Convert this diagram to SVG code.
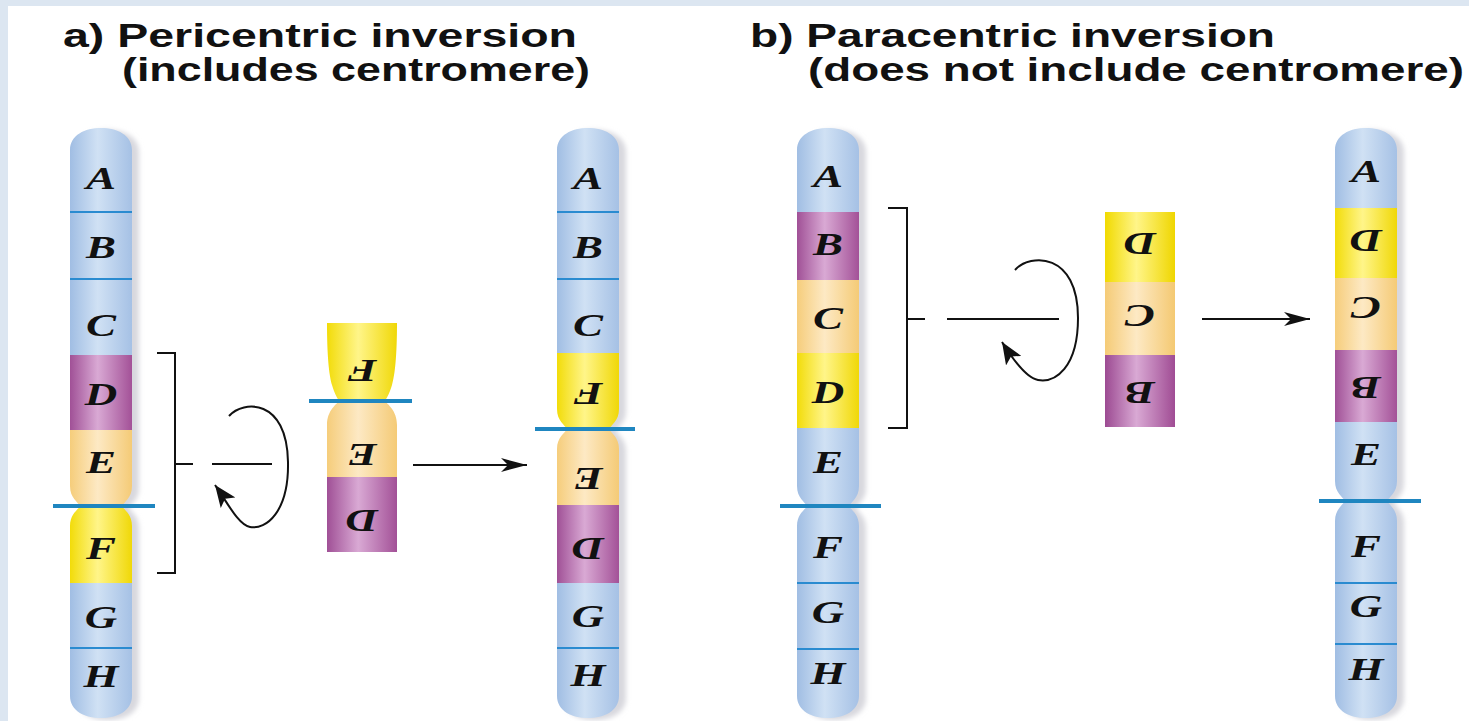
<svg xmlns="http://www.w3.org/2000/svg" width="1469" height="721" viewBox="0 0 1469 721">
<style>
.title{font-family:"Liberation Sans",Arial,sans-serif;font-weight:bold;font-size:33px;fill:#111}
.L{font-family:"Liberation Serif","Times New Roman",serif;font-weight:bold;font-style:italic;font-size:31px;fill:#111;text-anchor:middle}
.band{stroke:#2a8bd0;stroke-width:1.8}
.cen{stroke:#1f86c0;stroke-width:4}
.ln{stroke:#111;stroke-width:2;fill:none}
.shadow{fill:#d8d8de;filter:url(#blur)}
</style>
<defs>
<filter id="blur" x="-20%" y="-5%" width="140%" height="110%"><feGaussianBlur stdDeviation="2.5"/></filter>
<linearGradient id="gB" x1="0" y1="0" x2="1" y2="0"><stop offset="0" stop-color="#9dbbe2"/><stop offset="0.45" stop-color="#d0e1f4"/><stop offset="1" stop-color="#a3bfe4"/></linearGradient>
<linearGradient id="gP" x1="0" y1="0" x2="1" y2="0"><stop offset="0" stop-color="#9c4a92"/><stop offset="0.45" stop-color="#d9a9d4"/><stop offset="1" stop-color="#a04c94"/></linearGradient>
<linearGradient id="gO" x1="0" y1="0" x2="1" y2="0"><stop offset="0" stop-color="#f5cb76"/><stop offset="0.45" stop-color="#fde9c4"/><stop offset="1" stop-color="#f4c972"/></linearGradient>
<linearGradient id="gY" x1="0" y1="0" x2="1" y2="0"><stop offset="0" stop-color="#f1da00"/><stop offset="0.45" stop-color="#fff589"/><stop offset="1" stop-color="#efd600"/></linearGradient>
<path id="o1" d="M70,150 C70,135 85,128 101,128 C117,128 132,135 132,150 L132,486 C132,498 124,502 122,506 L80,506 C78,502 70,498 70,486 Z M80,506 L122,506 C124,510 132,514 132,526 L132,696 C132,711 117,718 101,718 C85,718 70,711 70,696 L70,526 C70,514 78,510 80,506 Z"/>
<path id="o3" d="M557,150 C557,135 572,128 588,128 C604,128 619,135 619,150 L619,409 C619,421 611,425 609,429 L567,429 C565,425 557,421 557,409 Z M567,429 L609,429 C611,433 619,437 619,449 L619,696 C619,711 604,718 588,718 C572,718 557,711 557,696 L557,449 C557,437 565,433 567,429 Z"/>
<path id="o4" d="M797,150 C797,135 812,128 828,128 C844,128 859,135 859,150 L859,486 C859,498 851,502 849,506 L807,506 C805,502 797,498 797,486 Z M807,506 L849,506 C851,510 859,514 859,526 L859,696 C859,711 844,718 828,718 C812,718 797,711 797,696 L797,526 C797,514 805,510 807,506 Z"/>
<path id="o6" d="M1335,150 C1335,135 1350,128 1366,128 C1382,128 1397,135 1397,150 L1397,481 C1397,493 1389,497 1387,501 L1345,501 C1343,497 1335,493 1335,481 Z M1345,501 L1387,501 C1389,505 1397,509 1397,521 L1397,696 C1397,711 1382,718 1366,718 C1350,718 1335,711 1335,696 L1335,521 C1335,509 1343,505 1345,501 Z"/>
<path id="oa" d="M327,323 L397,323 C397,355 395,375 392,385 C389,395 386,399 385,401 L339,401 C338,399 335,395 332,385 C329,375 327,355 327,323 Z M339,401 L385,401 C387,404 397,410 397,425 L397,552 L327,552 L327,425 C327,410 337,404 339,401 Z"/>
<clipPath id="c1"><use href="#o1"/></clipPath>
<clipPath id="c3"><use href="#o3"/></clipPath>
<clipPath id="c4"><use href="#o4"/></clipPath>
<clipPath id="c6"><use href="#o6"/></clipPath>
<clipPath id="ca"><use href="#oa"/></clipPath>
<marker id="ah" viewBox="0 0 26 16" refX="26" refY="8" markerWidth="26" markerHeight="16" markerUnits="userSpaceOnUse" orient="auto"><path d="M0,1 L26,8 L0,15 L7,8 Z" fill="#111"/></marker>
<marker id="ah2" viewBox="0 0 22 18" refX="22" refY="9" markerWidth="22" markerHeight="18" markerUnits="userSpaceOnUse" orient="auto"><path d="M0,0 L22,9 L0,18 L5,9 Z" fill="#111"/></marker>
</defs>

<rect x="0" y="0" width="1469" height="721" fill="#dce6f1"/>
<rect x="8" y="6" width="1461" height="715" fill="#ffffff"/>

<g id="title-a">
<text class="title" x="63" y="47" textLength="514" lengthAdjust="spacingAndGlyphs">a) Pericentric inversion</text>
<text class="title" x="122" y="81" textLength="468" lengthAdjust="spacingAndGlyphs">(includes centromere)</text>
</g>
<g id="title-b">
<text class="title" x="750" y="47" textLength="525" lengthAdjust="spacingAndGlyphs">b) Paracentric inversion</text>
<text class="title" x="808" y="81" textLength="656" lengthAdjust="spacingAndGlyphs">(does not include centromere)</text>
</g>

<g id="chr-a-original">
<use href="#o1" class="shadow" transform="translate(7,2)"/>
<g clip-path="url(#c1)">
<rect x="68" y="120" width="66" height="235" fill="url(#gB)"/>
<rect x="68" y="355" width="66" height="75" fill="url(#gP)"/>
<rect x="68" y="430" width="66" height="76" fill="url(#gO)"/>
<rect x="68" y="506" width="66" height="77" fill="url(#gY)"/>
<rect x="68" y="583" width="66" height="140" fill="url(#gB)"/>
</g>
<line class="band" x1="70" y1="212" x2="132" y2="212"/>
<line class="band" x1="70" y1="279" x2="132" y2="279"/>
<line class="band" x1="70" y1="648" x2="132" y2="648"/>
<line class="cen" x1="53" y1="506" x2="155" y2="506"/>
<text class="L" transform="translate(101,189) scale(1.45,1)">A</text>
<text class="L" transform="translate(101,258) scale(1.45,1)">B</text>
<text class="L" transform="translate(101,336) scale(1.45,1)">C</text>
<text class="L" transform="translate(101,405) scale(1.45,1)">D</text>
<text class="L" transform="translate(101,473) scale(1.45,1)">E</text>
<text class="L" transform="translate(101,559) scale(1.45,1)">F</text>
<text class="L" transform="translate(101,628) scale(1.45,1)">G</text>
<text class="L" transform="translate(101,687) scale(1.45,1)">H</text>
</g>

<g id="seg-a-inverted">
<g clip-path="url(#ca)">
<rect x="325" y="320" width="74" height="81" fill="url(#gY)"/>
<rect x="325" y="401" width="74" height="76" fill="url(#gO)"/>
<rect x="325" y="477" width="74" height="77" fill="url(#gP)"/>
</g>
<line class="cen" x1="309" y1="401" x2="412" y2="401"/>
<text class="L" transform="translate(362,360) rotate(180) scale(1.45,1)">F</text>
<text class="L" transform="translate(362,444) rotate(180) scale(1.45,1)">E</text>
<text class="L" transform="translate(362,510) rotate(180) scale(1.45,1)">D</text>
</g>

<g id="chr-a-result">
<use href="#o3" class="shadow" transform="translate(7,2)"/>
<g clip-path="url(#c3)">
<rect x="555" y="120" width="66" height="233" fill="url(#gB)"/>
<rect x="555" y="353" width="66" height="76" fill="url(#gY)"/>
<rect x="555" y="429" width="66" height="76" fill="url(#gO)"/>
<rect x="555" y="505" width="66" height="78" fill="url(#gP)"/>
<rect x="555" y="583" width="66" height="140" fill="url(#gB)"/>
</g>
<line class="band" x1="557" y1="212" x2="619" y2="212"/>
<line class="band" x1="557" y1="279" x2="619" y2="279"/>
<line class="band" x1="557" y1="648" x2="619" y2="648"/>
<line class="cen" x1="535" y1="429" x2="635" y2="429"/>
<text class="L" transform="translate(588,189) scale(1.45,1)">A</text>
<text class="L" transform="translate(588,258) scale(1.45,1)">B</text>
<text class="L" transform="translate(588,336) scale(1.45,1)">C</text>
<text class="L" transform="translate(588,383) rotate(180) scale(1.45,1)">F</text>
<text class="L" transform="translate(588,468) rotate(180) scale(1.45,1)">E</text>
<text class="L" transform="translate(588,538) rotate(180) scale(1.45,1)">D</text>
<text class="L" transform="translate(588,627) scale(1.45,1)">G</text>
<text class="L" transform="translate(588,686) scale(1.45,1)">H</text>
</g>

<g id="chr-b-original">
<use href="#o4" class="shadow" transform="translate(7,2)"/>
<g clip-path="url(#c4)">
<rect x="795" y="120" width="66" height="92" fill="url(#gB)"/>
<rect x="795" y="212" width="66" height="68" fill="url(#gP)"/>
<rect x="795" y="280" width="66" height="73" fill="url(#gO)"/>
<rect x="795" y="353" width="66" height="75" fill="url(#gY)"/>
<rect x="795" y="428" width="66" height="295" fill="url(#gB)"/>
</g>
<line class="band" x1="797" y1="583" x2="859" y2="583"/>
<line class="band" x1="797" y1="649" x2="859" y2="649"/>
<line class="cen" x1="780" y1="506" x2="881" y2="506"/>
<text class="L" transform="translate(828,187) scale(1.45,1)">A</text>
<text class="L" transform="translate(828,255) scale(1.45,1)">B</text>
<text class="L" transform="translate(828,329) scale(1.45,1)">C</text>
<text class="L" transform="translate(828,403) scale(1.45,1)">D</text>
<text class="L" transform="translate(828,473) scale(1.45,1)">E</text>
<text class="L" transform="translate(828,558) scale(1.45,1)">F</text>
<text class="L" transform="translate(828,623) scale(1.45,1)">G</text>
<text class="L" transform="translate(828,684) scale(1.45,1)">H</text>
</g>

<g id="seg-b-inverted">
<rect x="1105" y="212" width="70" height="70" fill="url(#gY)"/>
<rect x="1105" y="282" width="70" height="73" fill="url(#gO)"/>
<rect x="1105" y="355" width="70" height="72" fill="url(#gP)"/>
<text class="L" transform="translate(1140,233) rotate(180) scale(1.45,1)">D</text>
<text class="L" transform="translate(1140,305) rotate(180) scale(1.45,1)">C</text>
<text class="L" transform="translate(1140,382) rotate(180) scale(1.45,1)">B</text>
</g>

<g id="chr-b-result">
<use href="#o6" class="shadow" transform="translate(7,2)"/>
<g clip-path="url(#c6)">
<rect x="1333" y="120" width="66" height="88" fill="url(#gB)"/>
<rect x="1333" y="208" width="66" height="70" fill="url(#gY)"/>
<rect x="1333" y="278" width="66" height="72" fill="url(#gO)"/>
<rect x="1333" y="350" width="66" height="72" fill="url(#gP)"/>
<rect x="1333" y="422" width="66" height="301" fill="url(#gB)"/>
</g>
<line class="band" x1="1335" y1="583" x2="1397" y2="583"/>
<line class="band" x1="1335" y1="644" x2="1397" y2="644"/>
<line class="cen" x1="1319" y1="501" x2="1421" y2="501"/>
<text class="L" transform="translate(1366,182) scale(1.45,1)">A</text>
<text class="L" transform="translate(1366,230) rotate(180) scale(1.45,1)">D</text>
<text class="L" transform="translate(1366,297) rotate(180) scale(1.45,1)">C</text>
<text class="L" transform="translate(1366,377) rotate(180) scale(1.45,1)">B</text>
<text class="L" transform="translate(1366,465) scale(1.45,1)">E</text>
<text class="L" transform="translate(1366,557) scale(1.45,1)">F</text>
<text class="L" transform="translate(1366,617) scale(1.45,1)">G</text>
<text class="L" transform="translate(1366,680) scale(1.45,1)">H</text>
</g>

<g id="connectors">
<path class="ln" d="M157,353 L175,353 L175,573 L157,573 M175,464 L193,464"/>
<line class="ln" x1="212" y1="464" x2="272" y2="464"/>
<path class="ln" d="M229,416 C243,400 287,398 288,462 C289,512 266,530 250,527 C238,525 226,500 215,485" marker-end="url(#ah2)"/>
<line class="ln" x1="413" y1="465" x2="527" y2="465" marker-end="url(#ah)"/>
<path class="ln" d="M888,208 L907,208 L907,428 L888,428 M907,319 L925,319"/>
<line class="ln" x1="947" y1="319" x2="1059" y2="319"/>
<path class="ln" d="M1015,270 C1030,253 1078,252 1078,318 C1078,368 1055,383 1038,380 C1026,378 1012,358 1002,342" marker-end="url(#ah2)"/>
<line class="ln" x1="1202" y1="319" x2="1310" y2="319" marker-end="url(#ah)"/>
</g>
</svg>
